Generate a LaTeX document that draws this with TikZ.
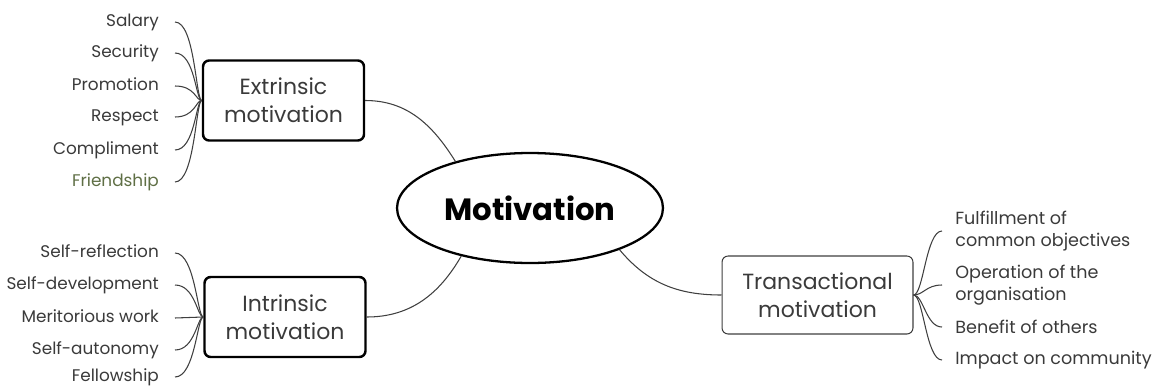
\documentclass[tikz,border=0pt]{standalone}
\usepackage{fontspec}
\setmainfont{Poppins}
\usetikzlibrary{shapes.geometric,positioning}
\definecolor{txtgray}{HTML}{3A3A3A}
\definecolor{friendgreen}{HTML}{5F6F45}
\definecolor{linegray}{HTML}{3F3F3F}
\begin{document}
\begin{tikzpicture}[
x=0.02cm, y=0.02cm,
hub/.style={
  draw,
  ellipse,
  line width=1.3pt,
  minimum width=5.32cm,
  minimum height=2.2cm,
  inner sep=0pt,
  font=\fontsize{17.5}{20}\selectfont\bfseries
},
topic/.style={
  draw,
  rounded corners=3.5pt,
  line width=1.4pt,
  minimum width=3.22cm,
  minimum height=1.6cm,
  align=center,
  text=txtgray,
  font=\fontsize{12.5}{16}\selectfont
},
leaf/.style={
  anchor=east,
  inner xsep=9pt,
  inner ysep=0pt,
  text height=7pt,
  text depth=2pt,
  text=txtgray,
  font=\fontsize{9.6}{12}\selectfont
},
leafr/.style={
  anchor=west,
  inner xsep=7.4pt,
  inner ysep=0pt,
  align=left,
  text=txtgray,
  font=\fontsize{10}{12.5}\selectfont
},
twig/.style={draw=linegray, line width=0.6pt}
]
\useasboundingbox (0,0) rectangle (1156,-389);

\node[hub] (motiv) at (530,-208) {Motivation};

\node[topic] (extr) at (283.5,-100.5) {Extrinsic\\motivation};
\node[topic] (intr) at (285,-317) {Intrinsic\\motivation};
\node[topic,line width=0.6pt,draw=linegray,minimum width=3.82cm,minimum height=1.56cm]
  (trans) at (817.5,-295) {Transactional\\motivation};

% extrinsic
\node[leaf] (sal) at (175,-22) {Salary};
\node[leaf] (sec) at (175,-53) {Security};
\node[leaf] (prom) at (175,-86) {Promotion};
\node[leaf] (resp) at (175,-117) {Respect};
\node[leaf] (compl) at (175,-150) {Compliment};
\node[leaf,text=friendgreen] (friend) at (175,-182) {Friendship};

% intrinsic
\node[leaf] (refl) at (175,-253) {Self-reflection};
\node[leaf] (devel) at (175,-285) {Self-development};
\node[leaf] (merit) at (175,-318) {Meritorious work};
\node[leaf] (auton) at (175,-350) {Self-autonomy};
\node[leaf] (fellow) at (175,-377) {Fellowship};

% transactional
\node[leafr] (fulfil) at (942,-231) {Fulfillment of\\common objectives};
\node[leafr] (oper) at (942,-285) {Operation of the\\organisation};
\node[leafr] (benef) at (942,-327) {Benefit of others};
\node[leafr] (impact) at (942,-360) {Impact on community};

\draw[twig] (extr.east) to[out=0,in=122] (motiv.148);
\draw[twig] (intr.east) to[out=0,in=-120] (motiv.215);
\draw[twig] (motiv.-25) to[out=-50,in=180] (trans.west);

\draw[twig] (sal.east) .. controls +(20,0) and +(-6,0) .. (extr.west);
\draw[twig] (sec.east) .. controls +(20,0) and +(-6,0) .. (extr.west);
\draw[twig] (prom.east) .. controls +(20,0) and +(-6,0) .. (extr.west);
\draw[twig] (resp.east) .. controls +(20,0) and +(-6,0) .. (extr.west);
\draw[twig] (compl.east) .. controls +(20,0) and +(-6,0) .. (extr.west);
\draw[twig] (friend.east) .. controls +(20,0) and +(-6,0) .. (extr.west);

\draw[twig] (refl.east) .. controls +(20,0) and +(-6,0) .. (intr.west);
\draw[twig] (devel.east) .. controls +(20,0) and +(-6,0) .. (intr.west);
\draw[twig] (merit.east) -- (intr.west);
\draw[twig] (auton.east) .. controls +(20,0) and +(-6,0) .. (intr.west);
\draw[twig] (fellow.east) .. controls +(20,0) and +(-6,0) .. (intr.west);

\draw[twig] (trans.east) .. controls +(10,0) and +(-16,0) .. (fulfil.west);
\draw[twig] (trans.east) .. controls +(10,0) and +(-16,0) .. (oper.west);
\draw[twig] (trans.east) .. controls +(10,0) and +(-16,0) .. (benef.west);
\draw[twig] (trans.east) .. controls +(10,0) and +(-16,0) .. (impact.west);
\end{tikzpicture}
\end{document}
